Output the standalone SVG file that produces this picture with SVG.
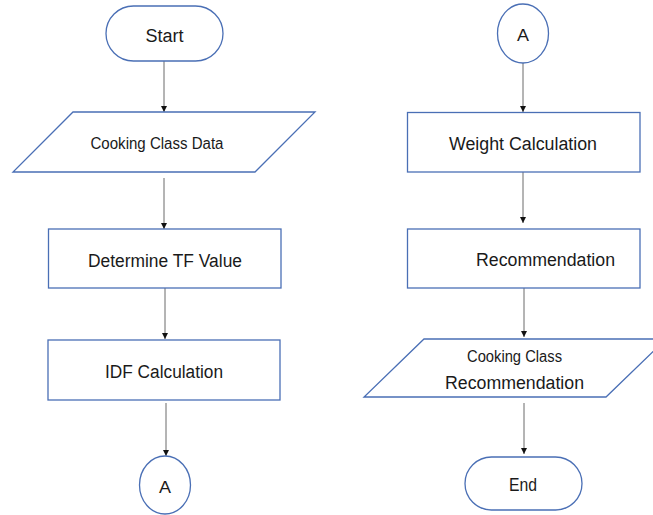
<svg xmlns="http://www.w3.org/2000/svg" width="653" height="515" viewBox="0 0 653 515">
<defs>
<style>
.sh{fill:#ffffff;stroke:#4a6fb5;stroke-width:1.3}
.t{font-family:"Liberation Sans",Arial,sans-serif;fill:#1a1a1a;text-anchor:middle}
.m{font-size:18px}
.s{font-size:16px}
.c{stroke:#6b6b6b;stroke-width:1;fill:none;marker-end:url(#ah)}
</style>
<marker id="ah" viewBox="0 0 10 10" refX="10" refY="5" markerWidth="6" markerHeight="6" markerUnits="userSpaceOnUse" orient="auto">
<path d="M0,0 L10,5 L0,10 z" fill="#111111"/>
</marker>
</defs>
<rect width="653" height="515" fill="#ffffff"/>
<g id="connectors">
<line class="c" x1="164" y1="61" x2="164" y2="112"/>
<line class="c" x1="164" y1="178" x2="164" y2="229"/>
<line class="c" x1="165" y1="288" x2="165" y2="339"/>
<line class="c" x1="166" y1="403" x2="166" y2="456"/>
<line class="c" x1="523" y1="63" x2="523" y2="112"/>
<line class="c" x1="523" y1="172" x2="523" y2="223"/>
<line class="c" x1="524" y1="288" x2="524" y2="337"/>
<line class="c" x1="524" y1="403" x2="524" y2="454"/>
</g>
<g id="start">
<rect class="sh" x="106" y="6" width="117" height="55" rx="27.5"/>
<text class="t m" x="164.5" y="42" textLength="38" lengthAdjust="spacingAndGlyphs">Start</text>
</g>
<g id="cooking-class-data">
<polygon class="sh" points="73,112 315,112 255,172 13,172"/>
<text class="t s" x="157" y="149" textLength="133" lengthAdjust="spacingAndGlyphs">Cooking Class Data</text>
</g>
<g id="determine-tf">
<rect class="sh" x="48.5" y="229" width="232.5" height="59"/>
<text class="t m" x="165" y="267" textLength="154" lengthAdjust="spacingAndGlyphs">Determine TF Value</text>
</g>
<g id="idf-calculation">
<rect class="sh" x="48" y="340" width="232" height="60"/>
<text class="t m" x="164" y="378" textLength="118" lengthAdjust="spacingAndGlyphs">IDF Calculation</text>
</g>
<g id="connector-a-left">
<ellipse class="sh" cx="165" cy="485" rx="25.5" ry="29"/>
<text class="t s" x="165" y="493" textLength="12" lengthAdjust="spacingAndGlyphs">A</text>
</g>
<g id="connector-a-right">
<ellipse class="sh" cx="523" cy="33.5" rx="25.5" ry="29.5"/>
<text class="t s" x="523" y="41" textLength="12" lengthAdjust="spacingAndGlyphs">A</text>
</g>
<g id="weight-calculation">
<rect class="sh" x="407.5" y="112.5" width="232.5" height="59.5"/>
<text class="t m" x="523" y="150" textLength="148" lengthAdjust="spacingAndGlyphs">Weight Calculation</text>
</g>
<g id="recommendation">
<rect class="sh" x="407.5" y="229" width="232.5" height="59"/>
<text class="t m" x="545.5" y="266" textLength="139" lengthAdjust="spacingAndGlyphs">Recommendation</text>
</g>
<g id="cooking-class-recommendation">
<polygon class="sh" points="424,339 666,339 606,397 364,397"/>
<text class="t s" x="514.5" y="362" textLength="95" lengthAdjust="spacingAndGlyphs">Cooking Class</text>
<text class="t m" x="514.5" y="389" textLength="139" lengthAdjust="spacingAndGlyphs">Recommendation</text>
</g>
<g id="end">
<rect class="sh" x="465" y="457" width="117" height="53" rx="26.5"/>
<text class="t m" x="523" y="491" textLength="28" lengthAdjust="spacingAndGlyphs">End</text>
</g>
</svg>
